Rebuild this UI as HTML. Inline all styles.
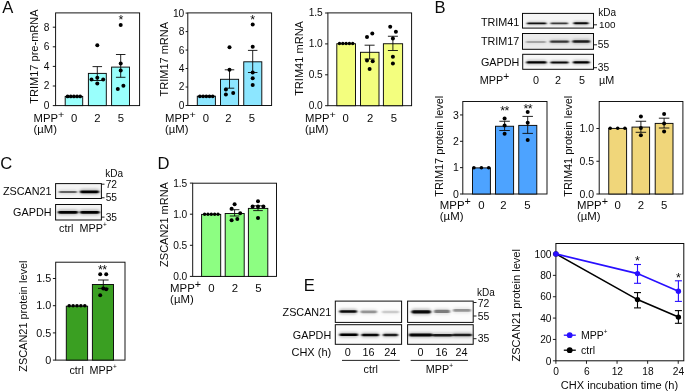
<!DOCTYPE html>
<html><head><meta charset="utf-8"><title>Figure</title>
<style>
html,body{margin:0;padding:0;background:#fff;}
svg{display:block;font-family:"Liberation Sans",Arial,sans-serif;}
</style></head><body>
<svg width="685" height="392" viewBox="0 0 685 392">
<defs>
<filter id="b1" x="-20%" y="-100%" width="140%" height="300%"><feGaussianBlur stdDeviation="1.1 0.7"/></filter>
<filter id="b2" x="-20%" y="-100%" width="140%" height="300%"><feGaussianBlur stdDeviation="1.4 0.9"/></filter>
</defs>
<rect width="685" height="392" fill="#fff"/>
<text x="2.20" y="12.80" font-size="16.60" text-anchor="start" fill="#0a0a0a">A</text>
<text x="434.60" y="12.80" font-size="16.60" text-anchor="start" fill="#0a0a0a">B</text>
<text x="0.30" y="169.00" font-size="16.60" text-anchor="start" fill="#0a0a0a">C</text>
<text x="157.60" y="169.00" font-size="16.60" text-anchor="start" fill="#0a0a0a">D</text>
<text x="303.80" y="290.70" font-size="16.60" text-anchor="start" fill="#0a0a0a">E</text>
<rect x="55.6" y="12.9" width="84.00" height="92.70" fill="none" stroke="#0a0a0a" stroke-width="0.95"/>
<line x1="52.80" y1="105.60" x2="55.60" y2="105.60" stroke="#0a0a0a" stroke-width="0.95" stroke-linecap="butt"/>
<text x="49.30" y="109.05" font-size="10.20" text-anchor="end" fill="#0a0a0a">0</text>
<line x1="52.80" y1="86.00" x2="55.60" y2="86.00" stroke="#0a0a0a" stroke-width="0.95" stroke-linecap="butt"/>
<text x="49.30" y="89.45" font-size="10.20" text-anchor="end" fill="#0a0a0a">2</text>
<line x1="52.80" y1="66.40" x2="55.60" y2="66.40" stroke="#0a0a0a" stroke-width="0.95" stroke-linecap="butt"/>
<text x="49.30" y="69.85" font-size="10.20" text-anchor="end" fill="#0a0a0a">4</text>
<line x1="52.80" y1="46.80" x2="55.60" y2="46.80" stroke="#0a0a0a" stroke-width="0.95" stroke-linecap="butt"/>
<text x="49.30" y="50.25" font-size="10.20" text-anchor="end" fill="#0a0a0a">6</text>
<line x1="52.80" y1="27.20" x2="55.60" y2="27.20" stroke="#0a0a0a" stroke-width="0.95" stroke-linecap="butt"/>
<text x="49.30" y="30.65" font-size="10.20" text-anchor="end" fill="#0a0a0a">8</text>
<rect x="65.20" y="96.40" width="17.50" height="9.20" fill="#99fffc" stroke="#0a0a0a" stroke-width="0.95"/>
<rect x="88.40" y="73.40" width="17.90" height="32.20" fill="#99fffc" stroke="#0a0a0a" stroke-width="0.95"/>
<rect x="111.60" y="67.10" width="17.90" height="38.50" fill="#99fffc" stroke="#0a0a0a" stroke-width="0.95"/>
<text x="0" y="0" font-size="10.46" text-anchor="start" fill="#0a0a0a" transform="translate(33.60 121.50) scale(1.08 1)">MPP<tspan font-size="9.94" dy="-3.98">+</tspan></text>
<text x="0" y="0" font-size="10.46" text-anchor="start" fill="#0a0a0a" transform="translate(33.60 132.50) scale(1.08 1)">(µM)</text>
<text x="0" y="0" font-size="10.46" text-anchor="middle" fill="#0a0a0a" transform="translate(74.20 121.50) scale(1.08 1)">0</text>
<text x="0" y="0" font-size="10.46" text-anchor="middle" fill="#0a0a0a" transform="translate(97.30 121.50) scale(1.08 1)">2</text>
<text x="0" y="0" font-size="10.46" text-anchor="middle" fill="#0a0a0a" transform="translate(120.80 121.50) scale(1.08 1)">5</text>
<text x="0" y="0" font-size="10.30" text-anchor="middle" fill="#0a0a0a" transform="translate(37.7 56.55) rotate(-90) scale(1.07 1)">TRIM17 pre-mRNA</text>
<circle cx="67.60" cy="96.40" r="1.85" fill="#000"/>
<circle cx="70.75" cy="96.40" r="1.85" fill="#000"/>
<circle cx="73.90" cy="96.40" r="1.85" fill="#000"/>
<circle cx="77.05" cy="96.40" r="1.85" fill="#000"/>
<circle cx="80.20" cy="96.40" r="1.85" fill="#000"/>
<line x1="97.30" y1="66.60" x2="97.30" y2="80.50" stroke="#0a0a0a" stroke-width="0.9" stroke-linecap="butt"/>
<line x1="92.55" y1="66.60" x2="102.05" y2="66.60" stroke="#0a0a0a" stroke-width="0.9" stroke-linecap="butt"/>
<line x1="92.55" y1="80.50" x2="102.05" y2="80.50" stroke="#0a0a0a" stroke-width="0.9" stroke-linecap="butt"/>
<circle cx="97.30" cy="45.30" r="2.0" fill="#000"/>
<circle cx="91.50" cy="79.60" r="2.0" fill="#000"/>
<circle cx="97.30" cy="77.70" r="2.0" fill="#000"/>
<circle cx="103.20" cy="79.60" r="2.0" fill="#000"/>
<circle cx="97.30" cy="83.60" r="2.0" fill="#000"/>
<line x1="120.70" y1="54.50" x2="120.70" y2="77.30" stroke="#0a0a0a" stroke-width="0.9" stroke-linecap="butt"/>
<line x1="115.95" y1="54.50" x2="125.45" y2="54.50" stroke="#0a0a0a" stroke-width="0.9" stroke-linecap="butt"/>
<line x1="115.95" y1="77.30" x2="125.45" y2="77.30" stroke="#0a0a0a" stroke-width="0.9" stroke-linecap="butt"/>
<circle cx="120.70" cy="25.00" r="2.0" fill="#000"/>
<circle cx="120.70" cy="63.60" r="2.0" fill="#000"/>
<circle cx="120.70" cy="70.50" r="2.0" fill="#000"/>
<circle cx="117.80" cy="88.90" r="2.0" fill="#000"/>
<circle cx="123.40" cy="85.70" r="2.0" fill="#000"/>
<text x="120.90" y="24.23" font-size="12.50" text-anchor="middle" fill="#0a0a0a">*</text>
<rect x="187.8" y="12.9" width="83.80" height="92.60" fill="none" stroke="#0a0a0a" stroke-width="0.95"/>
<line x1="185.60" y1="105.50" x2="187.80" y2="105.50" stroke="#0a0a0a" stroke-width="0.95" stroke-linecap="butt"/>
<text x="184.30" y="108.95" font-size="10.20" text-anchor="end" fill="#0a0a0a">0</text>
<line x1="185.60" y1="87.02" x2="187.80" y2="87.02" stroke="#0a0a0a" stroke-width="0.95" stroke-linecap="butt"/>
<text x="184.30" y="90.47" font-size="10.20" text-anchor="end" fill="#0a0a0a">2</text>
<line x1="185.60" y1="68.54" x2="187.80" y2="68.54" stroke="#0a0a0a" stroke-width="0.95" stroke-linecap="butt"/>
<text x="184.30" y="71.99" font-size="10.20" text-anchor="end" fill="#0a0a0a">4</text>
<line x1="185.60" y1="50.06" x2="187.80" y2="50.06" stroke="#0a0a0a" stroke-width="0.95" stroke-linecap="butt"/>
<text x="184.30" y="53.51" font-size="10.20" text-anchor="end" fill="#0a0a0a">6</text>
<line x1="185.60" y1="31.58" x2="187.80" y2="31.58" stroke="#0a0a0a" stroke-width="0.95" stroke-linecap="butt"/>
<text x="184.30" y="35.03" font-size="10.20" text-anchor="end" fill="#0a0a0a">8</text>
<line x1="185.60" y1="13.10" x2="187.80" y2="13.10" stroke="#0a0a0a" stroke-width="0.95" stroke-linecap="butt"/>
<text x="184.30" y="16.55" font-size="10.20" text-anchor="end" fill="#0a0a0a">10</text>
<rect x="197.30" y="96.20" width="18.10" height="9.30" fill="#8ce6ff" stroke="#0a0a0a" stroke-width="0.95"/>
<rect x="220.50" y="79.30" width="18.10" height="26.20" fill="#8ce6ff" stroke="#0a0a0a" stroke-width="0.95"/>
<rect x="243.75" y="61.80" width="18.05" height="43.70" fill="#8ce6ff" stroke="#0a0a0a" stroke-width="0.95"/>
<text x="0" y="0" font-size="10.46" text-anchor="start" fill="#0a0a0a" transform="translate(165.10 121.50) scale(1.08 1)">MPP<tspan font-size="9.94" dy="-3.98">+</tspan></text>
<text x="0" y="0" font-size="10.46" text-anchor="start" fill="#0a0a0a" transform="translate(165.10 132.50) scale(1.08 1)">(µM)</text>
<text x="0" y="0" font-size="10.46" text-anchor="middle" fill="#0a0a0a" transform="translate(205.90 121.50) scale(1.08 1)">0</text>
<text x="0" y="0" font-size="10.46" text-anchor="middle" fill="#0a0a0a" transform="translate(228.40 121.50) scale(1.08 1)">2</text>
<text x="0" y="0" font-size="10.46" text-anchor="middle" fill="#0a0a0a" transform="translate(251.80 121.50) scale(1.08 1)">5</text>
<text x="0" y="0" font-size="10.29" text-anchor="middle" fill="#0a0a0a" transform="translate(167.9 59.20) rotate(-90) scale(1.07 1)">TRIM17 mRNA</text>
<circle cx="199.90" cy="96.30" r="1.85" fill="#000"/>
<circle cx="203.10" cy="96.30" r="1.85" fill="#000"/>
<circle cx="206.30" cy="96.30" r="1.85" fill="#000"/>
<circle cx="209.50" cy="96.30" r="1.85" fill="#000"/>
<circle cx="212.70" cy="96.30" r="1.85" fill="#000"/>
<line x1="229.50" y1="69.80" x2="229.50" y2="88.20" stroke="#0a0a0a" stroke-width="0.9" stroke-linecap="butt"/>
<line x1="224.75" y1="69.80" x2="234.25" y2="69.80" stroke="#0a0a0a" stroke-width="0.9" stroke-linecap="butt"/>
<line x1="224.75" y1="88.20" x2="234.25" y2="88.20" stroke="#0a0a0a" stroke-width="0.9" stroke-linecap="butt"/>
<circle cx="229.50" cy="47.30" r="2.0" fill="#000"/>
<circle cx="229.50" cy="69.80" r="2.0" fill="#000"/>
<circle cx="225.90" cy="89.50" r="2.0" fill="#000"/>
<circle cx="225.90" cy="94.50" r="2.0" fill="#000"/>
<circle cx="233.20" cy="93.00" r="2.0" fill="#000"/>
<line x1="252.70" y1="50.40" x2="252.70" y2="72.50" stroke="#0a0a0a" stroke-width="0.9" stroke-linecap="butt"/>
<line x1="247.95" y1="50.40" x2="257.45" y2="50.40" stroke="#0a0a0a" stroke-width="0.9" stroke-linecap="butt"/>
<line x1="247.95" y1="72.50" x2="257.45" y2="72.50" stroke="#0a0a0a" stroke-width="0.9" stroke-linecap="butt"/>
<circle cx="252.70" cy="24.50" r="2.0" fill="#000"/>
<circle cx="252.70" cy="46.80" r="2.0" fill="#000"/>
<circle cx="252.70" cy="72.50" r="2.0" fill="#000"/>
<circle cx="252.70" cy="78.20" r="2.0" fill="#000"/>
<circle cx="252.70" cy="85.00" r="2.0" fill="#000"/>
<text x="252.70" y="24.02" font-size="12.50" text-anchor="middle" fill="#0a0a0a">*</text>
<rect x="327.9" y="12.9" width="83.70" height="92.80" fill="none" stroke="#0a0a0a" stroke-width="0.95"/>
<line x1="325.10" y1="105.70" x2="327.90" y2="105.70" stroke="#0a0a0a" stroke-width="0.95" stroke-linecap="butt"/>
<text x="322.80" y="109.15" font-size="10.20" text-anchor="end" fill="#0a0a0a">0.0</text>
<line x1="325.10" y1="74.80" x2="327.90" y2="74.80" stroke="#0a0a0a" stroke-width="0.95" stroke-linecap="butt"/>
<text x="322.80" y="78.25" font-size="10.20" text-anchor="end" fill="#0a0a0a">0.5</text>
<line x1="325.10" y1="43.90" x2="327.90" y2="43.90" stroke="#0a0a0a" stroke-width="0.95" stroke-linecap="butt"/>
<text x="322.80" y="47.35" font-size="10.20" text-anchor="end" fill="#0a0a0a">1.0</text>
<line x1="325.10" y1="13.00" x2="327.90" y2="13.00" stroke="#0a0a0a" stroke-width="0.95" stroke-linecap="butt"/>
<text x="322.80" y="16.45" font-size="10.20" text-anchor="end" fill="#0a0a0a">1.5</text>
<rect x="336.80" y="43.75" width="18.70" height="61.95" fill="#f3fe7e" stroke="#0a0a0a" stroke-width="0.95"/>
<rect x="360.50" y="52.30" width="18.50" height="53.40" fill="#f3fe7e" stroke="#0a0a0a" stroke-width="0.95"/>
<rect x="383.40" y="43.75" width="19.20" height="61.95" fill="#f3fe7e" stroke="#0a0a0a" stroke-width="0.95"/>
<text x="0" y="0" font-size="10.46" text-anchor="start" fill="#0a0a0a" transform="translate(305.00 121.50) scale(1.08 1)">MPP<tspan font-size="9.94" dy="-3.98">+</tspan></text>
<text x="0" y="0" font-size="10.46" text-anchor="start" fill="#0a0a0a" transform="translate(305.00 132.50) scale(1.08 1)">(µM)</text>
<text x="0" y="0" font-size="10.46" text-anchor="middle" fill="#0a0a0a" transform="translate(345.70 121.50) scale(1.08 1)">0</text>
<text x="0" y="0" font-size="10.46" text-anchor="middle" fill="#0a0a0a" transform="translate(370.20 121.50) scale(1.08 1)">2</text>
<text x="0" y="0" font-size="10.46" text-anchor="middle" fill="#0a0a0a" transform="translate(393.90 121.50) scale(1.08 1)">5</text>
<text x="0" y="0" font-size="10.33" text-anchor="middle" fill="#0a0a0a" transform="translate(303 58.45) rotate(-90) scale(1.07 1)">TRIM41 mRNA</text>
<circle cx="339.50" cy="43.50" r="1.7" fill="#000"/>
<circle cx="342.80" cy="43.50" r="1.7" fill="#000"/>
<circle cx="346.10" cy="43.50" r="1.7" fill="#000"/>
<circle cx="349.40" cy="43.50" r="1.7" fill="#000"/>
<circle cx="352.70" cy="43.50" r="1.7" fill="#000"/>
<line x1="369.60" y1="45.20" x2="369.60" y2="59.00" stroke="#0a0a0a" stroke-width="0.9" stroke-linecap="butt"/>
<line x1="364.60" y1="45.20" x2="374.60" y2="45.20" stroke="#0a0a0a" stroke-width="0.9" stroke-linecap="butt"/>
<line x1="364.60" y1="59.00" x2="374.60" y2="59.00" stroke="#0a0a0a" stroke-width="0.9" stroke-linecap="butt"/>
<circle cx="372.30" cy="33.60" r="2.0" fill="#000"/>
<circle cx="367.00" cy="37.00" r="2.0" fill="#000"/>
<circle cx="367.00" cy="60.40" r="2.0" fill="#000"/>
<circle cx="372.70" cy="61.30" r="2.0" fill="#000"/>
<circle cx="369.60" cy="69.00" r="2.0" fill="#000"/>
<line x1="392.90" y1="36.25" x2="392.90" y2="50.50" stroke="#0a0a0a" stroke-width="0.9" stroke-linecap="butt"/>
<line x1="387.90" y1="36.25" x2="397.90" y2="36.25" stroke="#0a0a0a" stroke-width="0.9" stroke-linecap="butt"/>
<line x1="387.90" y1="50.50" x2="397.90" y2="50.50" stroke="#0a0a0a" stroke-width="0.9" stroke-linecap="butt"/>
<circle cx="390.20" cy="26.80" r="2.0" fill="#000"/>
<circle cx="395.90" cy="31.80" r="2.0" fill="#000"/>
<circle cx="392.90" cy="38.40" r="2.0" fill="#000"/>
<circle cx="392.90" cy="56.80" r="2.0" fill="#000"/>
<circle cx="392.90" cy="63.50" r="2.0" fill="#000"/>
<rect x="522.5" y="13.4" width="71.00" height="14.70" fill="#f5f5f5" stroke="#0a0a0a" stroke-width="1"/>
<g filter="url(#b1)">
<rect x="527.00" y="22.50" width="19.40" height="1.79" rx="0.90" fill="#000" opacity="0.92"/>
<rect x="550.50" y="22.62" width="17.50" height="1.56" rx="0.78" fill="#000" opacity="0.72"/>
<rect x="573.50" y="22.15" width="15.00" height="2.11" rx="1.05" fill="#000" opacity="0.95"/>
</g>
<g filter="url(#b2)">
<rect x="526.50" y="21.45" width="20.40" height="3.91" rx="1.95" fill="#000" opacity="0.20"/>
<rect x="550.00" y="21.70" width="18.50" height="3.40" rx="1.70" fill="#000" opacity="0.16"/>
<rect x="573.00" y="20.91" width="16.00" height="4.59" rx="2.29" fill="#000" opacity="0.21"/>
</g>
<rect x="522.5" y="33.5" width="71.00" height="15.80" fill="#ebebeb" stroke="#0a0a0a" stroke-width="1"/>
<g filter="url(#b1)">
<rect x="526.00" y="40.89" width="20.00" height="2.03" rx="1.01" fill="#000" opacity="0.26"/>
<rect x="550.00" y="40.61" width="19.00" height="2.18" rx="1.09" fill="#000" opacity="0.72"/>
<rect x="572.50" y="40.29" width="17.50" height="2.42" rx="1.21" fill="#000" opacity="0.85"/>
</g>
<g filter="url(#b2)">
<rect x="525.50" y="39.69" width="21.00" height="4.42" rx="2.21" fill="#000" opacity="0.06"/>
<rect x="549.50" y="39.32" width="20.00" height="4.76" rx="2.38" fill="#000" opacity="0.16"/>
<rect x="572.00" y="38.87" width="18.50" height="5.27" rx="2.63" fill="#000" opacity="0.19"/>
</g>
<rect x="522.7" y="54.3" width="70.80" height="15.00" fill="#f8f8f8" stroke="#0a0a0a" stroke-width="1"/>
<g filter="url(#b1)">
<rect x="526.50" y="61.23" width="20.00" height="2.34" rx="1.17" fill="#000" opacity="1"/>
<rect x="550.50" y="61.39" width="18.00" height="2.03" rx="1.01" fill="#000" opacity="0.95"/>
<rect x="573.00" y="61.13" width="16.50" height="2.34" rx="1.17" fill="#000" opacity="1"/>
</g>
<g filter="url(#b2)">
<rect x="526.00" y="59.85" width="21.00" height="5.10" rx="2.55" fill="#000" opacity="0.22"/>
<rect x="550.00" y="60.19" width="19.00" height="4.42" rx="2.21" fill="#000" opacity="0.21"/>
<rect x="572.50" y="59.75" width="17.50" height="5.10" rx="2.55" fill="#000" opacity="0.22"/>
</g>
<text x="519.30" y="25.90" font-size="10.80" text-anchor="end" fill="#0a0a0a">TRIM41</text>
<text x="519.30" y="44.70" font-size="10.80" text-anchor="end" fill="#0a0a0a">TRIM17</text>
<text x="519.30" y="65.60" font-size="10.80" text-anchor="end" fill="#0a0a0a">GAPDH</text>
<text x="598.30" y="15.50" font-size="10.00" text-anchor="start" fill="#0a0a0a">kDa</text>
<line x1="594.00" y1="24.80" x2="597.00" y2="24.80" stroke="#0a0a0a" stroke-width="0.9" stroke-linecap="butt"/>
<text x="599.00" y="28.10" font-size="9.90" text-anchor="start" fill="#0a0a0a">100</text>
<line x1="594.00" y1="44.80" x2="597.00" y2="44.80" stroke="#0a0a0a" stroke-width="0.9" stroke-linecap="butt"/>
<text x="597.80" y="47.80" font-size="10.20" text-anchor="start" fill="#0a0a0a">55</text>
<line x1="594.00" y1="67.70" x2="597.00" y2="67.70" stroke="#0a0a0a" stroke-width="0.9" stroke-linecap="butt"/>
<text x="597.80" y="70.90" font-size="10.20" text-anchor="start" fill="#0a0a0a">35</text>
<text x="479.80" y="83.80" font-size="10.80" text-anchor="start" fill="#0a0a0a">MPP<tspan font-size="10.26" dy="-4.10">+</tspan></text>
<text x="536.00" y="83.80" font-size="10.80" text-anchor="middle" fill="#0a0a0a">0</text>
<text x="558.00" y="83.80" font-size="10.80" text-anchor="middle" fill="#0a0a0a">2</text>
<text x="582.00" y="83.80" font-size="10.80" text-anchor="middle" fill="#0a0a0a">5</text>
<text x="599.00" y="83.80" font-size="10.80" text-anchor="start" fill="#0a0a0a">µM</text>
<rect x="462.8" y="101.5" width="84.20" height="92.50" fill="none" stroke="#0a0a0a" stroke-width="0.95"/>
<line x1="460.00" y1="194.00" x2="462.80" y2="194.00" stroke="#0a0a0a" stroke-width="0.95" stroke-linecap="butt"/>
<text x="458.80" y="197.56" font-size="10.50" text-anchor="end" fill="#0a0a0a">0</text>
<line x1="460.00" y1="167.65" x2="462.80" y2="167.65" stroke="#0a0a0a" stroke-width="0.95" stroke-linecap="butt"/>
<text x="458.80" y="171.21" font-size="10.50" text-anchor="end" fill="#0a0a0a">1</text>
<line x1="460.00" y1="141.30" x2="462.80" y2="141.30" stroke="#0a0a0a" stroke-width="0.95" stroke-linecap="butt"/>
<text x="458.80" y="144.86" font-size="10.50" text-anchor="end" fill="#0a0a0a">2</text>
<line x1="460.00" y1="114.95" x2="462.80" y2="114.95" stroke="#0a0a0a" stroke-width="0.95" stroke-linecap="butt"/>
<text x="458.80" y="118.51" font-size="10.50" text-anchor="end" fill="#0a0a0a">3</text>
<rect x="472.50" y="167.90" width="17.90" height="26.10" fill="#4da3ff" stroke="#0a0a0a" stroke-width="0.95"/>
<rect x="495.50" y="126.25" width="18.10" height="67.75" fill="#4da3ff" stroke="#0a0a0a" stroke-width="0.95"/>
<rect x="518.75" y="125.40" width="18.05" height="68.60" fill="#4da3ff" stroke="#0a0a0a" stroke-width="0.95"/>
<text x="0" y="0" font-size="10.56" text-anchor="start" fill="#0a0a0a" transform="translate(439.80 209.00) scale(1.08 1)">MPP<tspan font-size="10.03" dy="-4.01">+</tspan></text>
<text x="0" y="0" font-size="10.56" text-anchor="start" fill="#0a0a0a" transform="translate(439.80 220.30) scale(1.08 1)">(µM)</text>
<text x="0" y="0" font-size="10.56" text-anchor="middle" fill="#0a0a0a" transform="translate(481.40 209.00) scale(1.08 1)">0</text>
<text x="0" y="0" font-size="10.56" text-anchor="middle" fill="#0a0a0a" transform="translate(503.50 209.00) scale(1.08 1)">2</text>
<text x="0" y="0" font-size="10.56" text-anchor="middle" fill="#0a0a0a" transform="translate(527.30 209.00) scale(1.08 1)">5</text>
<text x="0" y="0" font-size="10.24" text-anchor="middle" fill="#0a0a0a" transform="translate(443.4 146.25) rotate(-90) scale(1.07 1)">TRIM17 protein level</text>
<circle cx="473.90" cy="167.70" r="1.8" fill="#000"/>
<circle cx="481.40" cy="167.70" r="1.8" fill="#000"/>
<circle cx="488.70" cy="167.70" r="1.8" fill="#000"/>
<line x1="504.60" y1="121.25" x2="504.60" y2="130.50" stroke="#0a0a0a" stroke-width="0.9" stroke-linecap="butt"/>
<line x1="499.35" y1="121.25" x2="509.85" y2="121.25" stroke="#0a0a0a" stroke-width="0.9" stroke-linecap="butt"/>
<line x1="499.35" y1="130.50" x2="509.85" y2="130.50" stroke="#0a0a0a" stroke-width="0.9" stroke-linecap="butt"/>
<circle cx="504.60" cy="118.60" r="2.0" fill="#000"/>
<circle cx="504.60" cy="125.40" r="2.0" fill="#000"/>
<circle cx="504.60" cy="133.75" r="2.0" fill="#000"/>
<line x1="527.70" y1="116.40" x2="527.70" y2="133.40" stroke="#0a0a0a" stroke-width="0.9" stroke-linecap="butt"/>
<line x1="522.45" y1="116.40" x2="532.95" y2="116.40" stroke="#0a0a0a" stroke-width="0.9" stroke-linecap="butt"/>
<line x1="522.45" y1="133.40" x2="532.95" y2="133.40" stroke="#0a0a0a" stroke-width="0.9" stroke-linecap="butt"/>
<circle cx="527.70" cy="112.00" r="2.0" fill="#000"/>
<circle cx="527.70" cy="122.70" r="2.0" fill="#000"/>
<circle cx="527.70" cy="140.00" r="2.0" fill="#000"/>
<text x="504.60" y="114.53" font-size="12.50" text-anchor="middle" fill="#0a0a0a" letter-spacing="-0.6">**</text>
<text x="527.70" y="113.22" font-size="12.50" text-anchor="middle" fill="#0a0a0a" letter-spacing="-0.6">**</text>
<rect x="599.2" y="101.5" width="83.70" height="92.50" fill="none" stroke="#0a0a0a" stroke-width="0.95"/>
<line x1="596.40" y1="194.00" x2="599.20" y2="194.00" stroke="#0a0a0a" stroke-width="0.95" stroke-linecap="butt"/>
<text x="594.00" y="197.56" font-size="10.50" text-anchor="end" fill="#0a0a0a">0.0</text>
<line x1="596.40" y1="161.25" x2="599.20" y2="161.25" stroke="#0a0a0a" stroke-width="0.95" stroke-linecap="butt"/>
<text x="594.00" y="164.81" font-size="10.50" text-anchor="end" fill="#0a0a0a">0.5</text>
<line x1="596.40" y1="128.50" x2="599.20" y2="128.50" stroke="#0a0a0a" stroke-width="0.95" stroke-linecap="butt"/>
<text x="594.00" y="132.06" font-size="10.50" text-anchor="end" fill="#0a0a0a">1.0</text>
<rect x="608.75" y="128.40" width="17.85" height="65.60" fill="#f0d67a" stroke="#0a0a0a" stroke-width="0.95"/>
<rect x="632.00" y="127.10" width="17.60" height="66.90" fill="#f0d67a" stroke="#0a0a0a" stroke-width="0.95"/>
<rect x="655.20" y="123.40" width="17.80" height="70.60" fill="#f0d67a" stroke="#0a0a0a" stroke-width="0.95"/>
<text x="0" y="0" font-size="10.56" text-anchor="start" fill="#0a0a0a" transform="translate(577.00 209.00) scale(1.08 1)">MPP<tspan font-size="10.03" dy="-4.01">+</tspan></text>
<text x="0" y="0" font-size="10.56" text-anchor="start" fill="#0a0a0a" transform="translate(577.00 220.30) scale(1.08 1)">(µM)</text>
<text x="0" y="0" font-size="10.56" text-anchor="middle" fill="#0a0a0a" transform="translate(617.70 209.00) scale(1.08 1)">0</text>
<text x="0" y="0" font-size="10.56" text-anchor="middle" fill="#0a0a0a" transform="translate(640.80 209.00) scale(1.08 1)">2</text>
<text x="0" y="0" font-size="10.56" text-anchor="middle" fill="#0a0a0a" transform="translate(664.10 209.00) scale(1.08 1)">5</text>
<text x="0" y="0" font-size="10.24" text-anchor="middle" fill="#0a0a0a" transform="translate(572 146.25) rotate(-90) scale(1.07 1)">TRIM41 protein level</text>
<circle cx="610.20" cy="128.20" r="1.8" fill="#000"/>
<circle cx="617.70" cy="128.20" r="1.8" fill="#000"/>
<circle cx="624.90" cy="128.20" r="1.8" fill="#000"/>
<line x1="640.90" y1="121.25" x2="640.90" y2="132.30" stroke="#0a0a0a" stroke-width="0.9" stroke-linecap="butt"/>
<line x1="635.65" y1="121.25" x2="646.15" y2="121.25" stroke="#0a0a0a" stroke-width="0.9" stroke-linecap="butt"/>
<line x1="635.65" y1="132.30" x2="646.15" y2="132.30" stroke="#0a0a0a" stroke-width="0.9" stroke-linecap="butt"/>
<circle cx="640.90" cy="116.40" r="2.0" fill="#000"/>
<circle cx="640.90" cy="128.00" r="2.0" fill="#000"/>
<circle cx="640.90" cy="135.20" r="2.0" fill="#000"/>
<line x1="664.10" y1="118.20" x2="664.10" y2="128.00" stroke="#0a0a0a" stroke-width="0.9" stroke-linecap="butt"/>
<line x1="658.85" y1="118.20" x2="669.35" y2="118.20" stroke="#0a0a0a" stroke-width="0.9" stroke-linecap="butt"/>
<line x1="658.85" y1="128.00" x2="669.35" y2="128.00" stroke="#0a0a0a" stroke-width="0.9" stroke-linecap="butt"/>
<circle cx="664.10" cy="114.10" r="2.0" fill="#000"/>
<circle cx="664.10" cy="123.40" r="2.0" fill="#000"/>
<circle cx="664.10" cy="131.40" r="2.0" fill="#000"/>
<rect x="55.6" y="183.6" width="45.80" height="14.90" fill="#f4f4f4" stroke="#0a0a0a" stroke-width="1"/>
<g filter="url(#b1)">
<rect x="59.00" y="190.99" width="18.00" height="2.03" rx="1.01" fill="#000" opacity="0.55"/>
<rect x="80.00" y="190.40" width="19.00" height="2.81" rx="1.40" fill="#000" opacity="1"/>
</g>
<g filter="url(#b2)">
<rect x="58.50" y="189.79" width="19.00" height="4.42" rx="2.21" fill="#000" opacity="0.12"/>
<rect x="79.50" y="188.74" width="20.00" height="6.12" rx="3.06" fill="#000" opacity="0.22"/>
</g>
<rect x="55.6" y="204.5" width="45.80" height="15.50" fill="#f4f4f4" stroke="#0a0a0a" stroke-width="1"/>
<g filter="url(#b1)">
<rect x="58.00" y="210.90" width="20.00" height="2.81" rx="1.40" fill="#000" opacity="1"/>
<rect x="80.00" y="210.90" width="19.50" height="2.81" rx="1.40" fill="#000" opacity="1"/>
</g>
<g filter="url(#b2)">
<rect x="57.50" y="209.24" width="21.00" height="6.12" rx="3.06" fill="#000" opacity="0.22"/>
<rect x="79.50" y="209.24" width="20.50" height="6.12" rx="3.06" fill="#000" opacity="0.22"/>
</g>
<text x="51.50" y="194.80" font-size="10.80" text-anchor="end" fill="#0a0a0a">ZSCAN21</text>
<text x="51.50" y="215.60" font-size="10.80" text-anchor="end" fill="#0a0a0a">GAPDH</text>
<text x="105.20" y="176.90" font-size="10.00" text-anchor="start" fill="#0a0a0a">kDa</text>
<line x1="101.60" y1="184.20" x2="104.50" y2="184.20" stroke="#0a0a0a" stroke-width="0.9" stroke-linecap="butt"/>
<text x="105.70" y="188.10" font-size="10.20" text-anchor="start" fill="#0a0a0a">72</text>
<line x1="101.60" y1="197.75" x2="104.50" y2="197.75" stroke="#0a0a0a" stroke-width="0.9" stroke-linecap="butt"/>
<text x="105.70" y="200.80" font-size="10.20" text-anchor="start" fill="#0a0a0a">55</text>
<line x1="101.60" y1="217.10" x2="104.50" y2="217.10" stroke="#0a0a0a" stroke-width="0.9" stroke-linecap="butt"/>
<text x="105.70" y="220.70" font-size="10.20" text-anchor="start" fill="#0a0a0a">35</text>
<text x="59.10" y="232.00" font-size="10.80" text-anchor="start" fill="#0a0a0a">ctrl</text>
<text x="79.50" y="232.00" font-size="10.80" text-anchor="start" fill="#0a0a0a">MPP<tspan font-size="6.48" dy="-4.54">+</tspan></text>
<rect x="55.7" y="262.2" width="69.30" height="97.90" fill="none" stroke="#0a0a0a" stroke-width="0.95"/>
<line x1="52.90" y1="360.10" x2="55.70" y2="360.10" stroke="#0a0a0a" stroke-width="0.95" stroke-linecap="butt"/>
<text x="51.30" y="363.77" font-size="10.80" text-anchor="end" fill="#0a0a0a">0</text>
<line x1="52.90" y1="332.90" x2="55.70" y2="332.90" stroke="#0a0a0a" stroke-width="0.95" stroke-linecap="butt"/>
<text x="51.30" y="336.57" font-size="10.80" text-anchor="end" fill="#0a0a0a">0.5</text>
<line x1="52.90" y1="305.70" x2="55.70" y2="305.70" stroke="#0a0a0a" stroke-width="0.95" stroke-linecap="butt"/>
<text x="51.30" y="309.37" font-size="10.80" text-anchor="end" fill="#0a0a0a">1.0</text>
<line x1="52.90" y1="278.50" x2="55.70" y2="278.50" stroke="#0a0a0a" stroke-width="0.95" stroke-linecap="butt"/>
<text x="51.30" y="282.17" font-size="10.80" text-anchor="end" fill="#0a0a0a">1.5</text>
<rect x="66.30" y="306.20" width="21.30" height="53.90" fill="#3a9f22" stroke="#0a0a0a" stroke-width="0.95"/>
<rect x="92.40" y="284.50" width="21.10" height="75.60" fill="#3a9f22" stroke="#0a0a0a" stroke-width="0.95"/>
<text x="0" y="0" font-size="10.94" text-anchor="middle" fill="#0a0a0a" transform="translate(27 316.15) rotate(-90) scale(1.0 1)">ZSCAN21 protein level</text>
<circle cx="69.20" cy="305.80" r="1.8" fill="#000"/>
<circle cx="73.10" cy="305.80" r="1.8" fill="#000"/>
<circle cx="77.00" cy="305.80" r="1.8" fill="#000"/>
<circle cx="80.90" cy="305.80" r="1.8" fill="#000"/>
<circle cx="84.80" cy="305.80" r="1.8" fill="#000"/>
<line x1="103.30" y1="280.00" x2="103.30" y2="288.40" stroke="#0a0a0a" stroke-width="0.9" stroke-linecap="butt"/>
<line x1="98.00" y1="280.00" x2="108.60" y2="280.00" stroke="#0a0a0a" stroke-width="0.9" stroke-linecap="butt"/>
<line x1="98.00" y1="288.40" x2="108.60" y2="288.40" stroke="#0a0a0a" stroke-width="0.9" stroke-linecap="butt"/>
<circle cx="100.20" cy="274.20" r="2.0" fill="#000"/>
<circle cx="106.20" cy="274.20" r="2.0" fill="#000"/>
<circle cx="100.20" cy="295.20" r="2.0" fill="#000"/>
<circle cx="106.20" cy="289.30" r="2.0" fill="#000"/>
<circle cx="103.30" cy="288.50" r="2.0" fill="#000"/>
<text x="102.30" y="274.02" font-size="12.50" text-anchor="middle" fill="#0a0a0a" letter-spacing="-0.6">**</text>
<text x="69.40" y="373.75" font-size="10.80" text-anchor="start" fill="#0a0a0a">ctrl</text>
<text x="89.50" y="373.75" font-size="10.80" text-anchor="start" fill="#0a0a0a">MPP<tspan font-size="6.48" dy="-4.54">+</tspan></text>
<rect x="192.7" y="183.2" width="83.80" height="93.20" fill="none" stroke="#0a0a0a" stroke-width="0.95"/>
<line x1="189.90" y1="276.40" x2="192.70" y2="276.40" stroke="#0a0a0a" stroke-width="0.95" stroke-linecap="butt"/>
<text x="187.30" y="279.85" font-size="10.20" text-anchor="end" fill="#0a0a0a">0.0</text>
<line x1="189.90" y1="245.30" x2="192.70" y2="245.30" stroke="#0a0a0a" stroke-width="0.95" stroke-linecap="butt"/>
<text x="187.30" y="248.75" font-size="10.20" text-anchor="end" fill="#0a0a0a">0.5</text>
<line x1="189.90" y1="214.20" x2="192.70" y2="214.20" stroke="#0a0a0a" stroke-width="0.95" stroke-linecap="butt"/>
<text x="187.30" y="217.65" font-size="10.20" text-anchor="end" fill="#0a0a0a">1.0</text>
<line x1="189.90" y1="183.10" x2="192.70" y2="183.10" stroke="#0a0a0a" stroke-width="0.95" stroke-linecap="butt"/>
<text x="187.30" y="186.55" font-size="10.20" text-anchor="end" fill="#0a0a0a">1.5</text>
<rect x="201.60" y="214.40" width="19.10" height="62.00" fill="#8dfe82" stroke="#0a0a0a" stroke-width="0.95"/>
<rect x="225.20" y="213.50" width="19.00" height="62.90" fill="#8dfe82" stroke="#0a0a0a" stroke-width="0.95"/>
<rect x="248.40" y="208.40" width="19.40" height="68.00" fill="#8dfe82" stroke="#0a0a0a" stroke-width="0.95"/>
<text x="0" y="0" font-size="10.56" text-anchor="start" fill="#0a0a0a" transform="translate(170.10 291.70) scale(1.08 1)">MPP<tspan font-size="10.03" dy="-4.01">+</tspan></text>
<text x="0" y="0" font-size="10.56" text-anchor="start" fill="#0a0a0a" transform="translate(170.10 302.70) scale(1.08 1)">(µM)</text>
<text x="0" y="0" font-size="10.56" text-anchor="middle" fill="#0a0a0a" transform="translate(211.40 291.70) scale(1.08 1)">0</text>
<text x="0" y="0" font-size="10.56" text-anchor="middle" fill="#0a0a0a" transform="translate(234.90 291.70) scale(1.08 1)">2</text>
<text x="0" y="0" font-size="10.56" text-anchor="middle" fill="#0a0a0a" transform="translate(258.30 291.70) scale(1.08 1)">5</text>
<text x="0" y="0" font-size="10.28" text-anchor="middle" fill="#0a0a0a" transform="translate(167.9 224.50) rotate(-90) scale(1.07 1)">ZSCAN21 mRNA</text>
<circle cx="204.60" cy="214.20" r="1.7" fill="#000"/>
<circle cx="207.95" cy="214.20" r="1.7" fill="#000"/>
<circle cx="211.30" cy="214.20" r="1.7" fill="#000"/>
<circle cx="214.65" cy="214.20" r="1.7" fill="#000"/>
<circle cx="218.00" cy="214.20" r="1.7" fill="#000"/>
<line x1="234.60" y1="209.70" x2="234.60" y2="216.00" stroke="#0a0a0a" stroke-width="0.9" stroke-linecap="butt"/>
<line x1="229.80" y1="209.70" x2="239.40" y2="209.70" stroke="#0a0a0a" stroke-width="0.9" stroke-linecap="butt"/>
<line x1="229.80" y1="216.00" x2="239.40" y2="216.00" stroke="#0a0a0a" stroke-width="0.9" stroke-linecap="butt"/>
<circle cx="234.60" cy="204.30" r="2.0" fill="#000"/>
<circle cx="231.60" cy="208.80" r="2.0" fill="#000"/>
<circle cx="240.20" cy="213.30" r="2.0" fill="#000"/>
<circle cx="231.60" cy="220.20" r="2.0" fill="#000"/>
<circle cx="237.30" cy="219.00" r="2.0" fill="#000"/>
<line x1="258.00" y1="205.80" x2="258.00" y2="210.60" stroke="#0a0a0a" stroke-width="0.9" stroke-linecap="butt"/>
<line x1="253.20" y1="205.80" x2="262.80" y2="205.80" stroke="#0a0a0a" stroke-width="0.9" stroke-linecap="butt"/>
<line x1="253.20" y1="210.60" x2="262.80" y2="210.60" stroke="#0a0a0a" stroke-width="0.9" stroke-linecap="butt"/>
<circle cx="258.00" cy="201.30" r="2.0" fill="#000"/>
<circle cx="252.60" cy="206.40" r="2.0" fill="#000"/>
<circle cx="258.00" cy="206.40" r="2.0" fill="#000"/>
<circle cx="263.40" cy="206.40" r="2.0" fill="#000"/>
<circle cx="258.00" cy="218.10" r="2.0" fill="#000"/>
<rect x="335.3" y="301.1" width="66.30" height="21.30" fill="#fcfcfc" stroke="#0a0a0a" stroke-width="1"/>
<g filter="url(#b1)">
<rect x="339.50" y="310.17" width="17.50" height="2.65" rx="1.33" fill="#000" opacity="0.95"/>
<rect x="360.50" y="310.40" width="16.50" height="2.81" rx="1.40" fill="#000" opacity="0.36"/>
<rect x="382.00" y="310.83" width="17.00" height="2.34" rx="1.17" fill="#000" opacity="0.16"/>
</g>
<g filter="url(#b2)">
<rect x="339.00" y="308.61" width="18.50" height="5.78" rx="2.89" fill="#000" opacity="0.21"/>
<rect x="360.00" y="308.74" width="17.50" height="6.12" rx="3.06" fill="#000" opacity="0.08"/>
<rect x="381.50" y="309.45" width="18.00" height="5.10" rx="2.55" fill="#000" opacity="0.04"/>
</g>
<rect x="335.3" y="324.7" width="66.30" height="19.60" fill="#fafafa" stroke="#0a0a0a" stroke-width="1"/>
<g filter="url(#b1)">
<rect x="339.50" y="333.45" width="18.50" height="2.50" rx="1.25" fill="#000" opacity="1"/>
<rect x="361.50" y="333.75" width="17.50" height="2.50" rx="1.25" fill="#000" opacity="0.95"/>
<rect x="383.00" y="333.83" width="15.00" height="2.34" rx="1.17" fill="#000" opacity="0.85"/>
</g>
<g filter="url(#b2)">
<rect x="339.00" y="331.98" width="19.50" height="5.44" rx="2.72" fill="#000" opacity="0.22"/>
<rect x="361.00" y="332.28" width="18.50" height="5.44" rx="2.72" fill="#000" opacity="0.21"/>
<rect x="382.50" y="332.45" width="16.00" height="5.10" rx="2.55" fill="#000" opacity="0.19"/>
</g>
<rect x="407.6" y="301.1" width="65.60" height="21.30" fill="#fcfcfc" stroke="#0a0a0a" stroke-width="1"/>
<g filter="url(#b1)">
<rect x="411.50" y="310.16" width="19.50" height="3.28" rx="1.64" fill="#000" opacity="0.95"/>
<rect x="434.00" y="309.84" width="16.00" height="3.12" rx="1.56" fill="#000" opacity="0.45"/>
<rect x="453.00" y="309.00" width="18.00" height="2.81" rx="1.40" fill="#000" opacity="0.36"/>
</g>
<g filter="url(#b2)">
<rect x="411.00" y="308.23" width="20.50" height="7.14" rx="3.57" fill="#000" opacity="0.21"/>
<rect x="433.50" y="308.00" width="17.00" height="6.80" rx="3.40" fill="#000" opacity="0.10"/>
<rect x="452.50" y="307.34" width="19.00" height="6.12" rx="3.06" fill="#000" opacity="0.08"/>
</g>
<rect x="407.6" y="324.7" width="65.60" height="19.60" fill="#f6f6f6" stroke="#0a0a0a" stroke-width="1"/>
<g filter="url(#b1)">
<rect x="409.00" y="333.60" width="23.50" height="2.81" rx="1.40" fill="#000" opacity="0.97"/>
<rect x="432.50" y="334.05" width="20.00" height="2.50" rx="1.25" fill="#000" opacity="0.88"/>
<rect x="452.50" y="333.67" width="19.50" height="2.65" rx="1.33" fill="#000" opacity="0.85"/>
</g>
<g filter="url(#b2)">
<rect x="408.50" y="331.94" width="24.50" height="6.12" rx="3.06" fill="#000" opacity="0.21"/>
<rect x="432.00" y="332.58" width="21.00" height="5.44" rx="2.72" fill="#000" opacity="0.19"/>
<rect x="452.00" y="332.11" width="20.50" height="5.78" rx="2.89" fill="#000" opacity="0.19"/>
</g>
<text x="331.20" y="316.00" font-size="10.80" text-anchor="end" fill="#0a0a0a">ZSCAN21</text>
<text x="331.20" y="339.20" font-size="10.80" text-anchor="end" fill="#0a0a0a">GAPDH</text>
<text x="331.20" y="356.20" font-size="11.00" text-anchor="end" fill="#0a0a0a">CHX (h)</text>
<text x="477.00" y="296.20" font-size="10.00" text-anchor="start" fill="#0a0a0a">kDa</text>
<line x1="473.40" y1="302.50" x2="476.50" y2="302.50" stroke="#0a0a0a" stroke-width="0.9" stroke-linecap="butt"/>
<text x="477.80" y="306.90" font-size="10.40" text-anchor="start" fill="#0a0a0a">72</text>
<line x1="473.40" y1="316.00" x2="476.50" y2="316.00" stroke="#0a0a0a" stroke-width="0.9" stroke-linecap="butt"/>
<text x="477.80" y="319.90" font-size="10.40" text-anchor="start" fill="#0a0a0a">55</text>
<line x1="473.40" y1="338.70" x2="476.50" y2="338.70" stroke="#0a0a0a" stroke-width="0.9" stroke-linecap="butt"/>
<text x="477.80" y="342.20" font-size="10.40" text-anchor="start" fill="#0a0a0a">35</text>
<text x="347.80" y="356.30" font-size="10.80" text-anchor="middle" fill="#0a0a0a">0</text>
<text x="368.60" y="356.30" font-size="10.80" text-anchor="middle" fill="#0a0a0a">16</text>
<text x="390.20" y="356.30" font-size="10.80" text-anchor="middle" fill="#0a0a0a">24</text>
<text x="420.40" y="356.30" font-size="10.80" text-anchor="middle" fill="#0a0a0a">0</text>
<text x="441.50" y="356.30" font-size="10.80" text-anchor="middle" fill="#0a0a0a">16</text>
<text x="461.50" y="356.30" font-size="10.80" text-anchor="middle" fill="#0a0a0a">24</text>
<line x1="342.00" y1="360.40" x2="399.80" y2="360.40" stroke="#0a0a0a" stroke-width="0.9" stroke-linecap="butt"/>
<line x1="410.70" y1="360.40" x2="468.00" y2="360.40" stroke="#0a0a0a" stroke-width="0.9" stroke-linecap="butt"/>
<text x="370.80" y="372.80" font-size="10.80" text-anchor="middle" fill="#0a0a0a">ctrl</text>
<text x="439.40" y="372.80" font-size="10.80" text-anchor="middle" fill="#0a0a0a">MPP<tspan font-size="6.48" dy="-4.54">+</tspan></text>
<rect x="555.9" y="243.5" width="127.90" height="117.30" fill="none" stroke="#0a0a0a" stroke-width="1"/>
<line x1="552.90" y1="360.80" x2="555.90" y2="360.80" stroke="#0a0a0a" stroke-width="0.9" stroke-linecap="butt"/>
<text x="551.50" y="364.50" font-size="10.20" text-anchor="end" fill="#0a0a0a">0</text>
<line x1="552.90" y1="339.44" x2="555.90" y2="339.44" stroke="#0a0a0a" stroke-width="0.9" stroke-linecap="butt"/>
<text x="551.50" y="343.14" font-size="10.20" text-anchor="end" fill="#0a0a0a">20</text>
<line x1="552.90" y1="318.08" x2="555.90" y2="318.08" stroke="#0a0a0a" stroke-width="0.9" stroke-linecap="butt"/>
<text x="551.50" y="321.78" font-size="10.20" text-anchor="end" fill="#0a0a0a">40</text>
<line x1="552.90" y1="296.72" x2="555.90" y2="296.72" stroke="#0a0a0a" stroke-width="0.9" stroke-linecap="butt"/>
<text x="551.50" y="300.42" font-size="10.20" text-anchor="end" fill="#0a0a0a">60</text>
<line x1="552.90" y1="275.36" x2="555.90" y2="275.36" stroke="#0a0a0a" stroke-width="0.9" stroke-linecap="butt"/>
<text x="551.50" y="279.06" font-size="10.20" text-anchor="end" fill="#0a0a0a">80</text>
<line x1="552.90" y1="254.00" x2="555.90" y2="254.00" stroke="#0a0a0a" stroke-width="0.9" stroke-linecap="butt"/>
<text x="551.50" y="257.70" font-size="10.20" text-anchor="end" fill="#0a0a0a">100</text>
<line x1="555.90" y1="360.80" x2="555.90" y2="363.80" stroke="#0a0a0a" stroke-width="0.9" stroke-linecap="butt"/>
<text x="556.20" y="374.90" font-size="10.20" text-anchor="middle" fill="#0a0a0a">0</text>
<line x1="586.48" y1="360.80" x2="586.48" y2="363.80" stroke="#0a0a0a" stroke-width="0.9" stroke-linecap="butt"/>
<text x="586.78" y="374.90" font-size="10.20" text-anchor="middle" fill="#0a0a0a">6</text>
<line x1="617.06" y1="360.80" x2="617.06" y2="363.80" stroke="#0a0a0a" stroke-width="0.9" stroke-linecap="butt"/>
<text x="617.36" y="374.90" font-size="10.20" text-anchor="middle" fill="#0a0a0a">12</text>
<line x1="647.65" y1="360.80" x2="647.65" y2="363.80" stroke="#0a0a0a" stroke-width="0.9" stroke-linecap="butt"/>
<text x="647.95" y="374.90" font-size="10.20" text-anchor="middle" fill="#0a0a0a">18</text>
<line x1="678.23" y1="360.80" x2="678.23" y2="363.80" stroke="#0a0a0a" stroke-width="0.9" stroke-linecap="butt"/>
<text x="678.40" y="374.90" font-size="10.20" text-anchor="middle" fill="#0a0a0a">24</text>
<text x="0" y="0" font-size="11.07" text-anchor="middle" fill="#0a0a0a" transform="translate(520.2 305.30) rotate(-90) scale(1.0 1)">ZSCAN21 protein level</text>
<text x="619.50" y="388.6" font-size="11.06" text-anchor="middle" fill="#0a0a0a">CHX incubation time (h)</text>
<polyline points="555.9,253.9 637.5,299.6 678.4,317.1" fill="none" stroke="#000" stroke-width="1.6"/>
<line x1="637.50" y1="292.60" x2="637.50" y2="307.90" stroke="#000" stroke-width="1.1" stroke-linecap="butt"/>
<line x1="634.00" y1="292.60" x2="641.00" y2="292.60" stroke="#000" stroke-width="1.1" stroke-linecap="butt"/>
<line x1="634.00" y1="307.90" x2="641.00" y2="307.90" stroke="#000" stroke-width="1.1" stroke-linecap="butt"/>
<line x1="678.40" y1="310.60" x2="678.40" y2="323.30" stroke="#000" stroke-width="1.1" stroke-linecap="butt"/>
<line x1="674.90" y1="310.60" x2="681.90" y2="310.60" stroke="#000" stroke-width="1.1" stroke-linecap="butt"/>
<line x1="674.90" y1="323.30" x2="681.90" y2="323.30" stroke="#000" stroke-width="1.1" stroke-linecap="butt"/>
<circle cx="555.90" cy="253.90" r="2.7" fill="#000"/>
<circle cx="637.50" cy="299.60" r="2.7" fill="#000"/>
<circle cx="678.40" cy="317.10" r="2.7" fill="#000"/>
<polyline points="555.9,253.9 637.5,273.6 678.4,291.2" fill="none" stroke="#280fff" stroke-width="1.6"/>
<line x1="637.50" y1="264.50" x2="637.50" y2="283.30" stroke="#280fff" stroke-width="1.1" stroke-linecap="butt"/>
<line x1="634.00" y1="264.50" x2="641.00" y2="264.50" stroke="#280fff" stroke-width="1.1" stroke-linecap="butt"/>
<line x1="634.00" y1="283.30" x2="641.00" y2="283.30" stroke="#280fff" stroke-width="1.1" stroke-linecap="butt"/>
<line x1="678.40" y1="280.80" x2="678.40" y2="301.40" stroke="#280fff" stroke-width="1.1" stroke-linecap="butt"/>
<line x1="674.90" y1="280.80" x2="681.90" y2="280.80" stroke="#280fff" stroke-width="1.1" stroke-linecap="butt"/>
<line x1="674.90" y1="301.40" x2="681.90" y2="301.40" stroke="#280fff" stroke-width="1.1" stroke-linecap="butt"/>
<circle cx="555.90" cy="253.90" r="2.7" fill="#280fff"/>
<circle cx="637.50" cy="273.60" r="2.7" fill="#280fff"/>
<circle cx="678.40" cy="291.20" r="2.7" fill="#280fff"/>
<text x="637.50" y="265.23" font-size="12.50" text-anchor="middle" fill="#0a0a0a">*</text>
<text x="678.40" y="281.82" font-size="12.50" text-anchor="middle" fill="#0a0a0a">*</text>
<line x1="563.80" y1="335.20" x2="575.80" y2="335.20" stroke="#280fff" stroke-width="1.3" stroke-linecap="butt"/>
<circle cx="569.70" cy="335.20" r="2.9" fill="#280fff"/>
<text x="581.00" y="338.90" font-size="10.50" text-anchor="start" fill="#0a0a0a">MPP<tspan font-size="6.30" dy="-4.41">+</tspan></text>
<line x1="563.80" y1="350.20" x2="575.80" y2="350.20" stroke="#000" stroke-width="1.3" stroke-linecap="butt"/>
<circle cx="569.70" cy="350.20" r="2.9" fill="#000"/>
<text x="581.00" y="353.70" font-size="10.50" text-anchor="start" fill="#0a0a0a">ctrl</text>
</svg></body></html>
